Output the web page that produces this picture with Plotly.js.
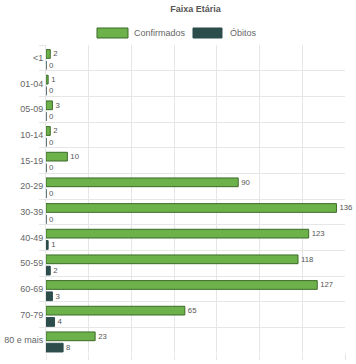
<!DOCTYPE html>
<html><head><meta charset="utf-8">
<script src="https://cdn.plot.ly/plotly-3.0.1.min.js"></script>
<style>html,body{margin:0;padding:0;background:#fff}#c{width:356px;height:364px}</style>
</head><body><div id="c"></div>
<script>
const faixas = ['<1','01-04','05-09','10-14','15-19','20-29','30-39','40-49','50-59','60-69','70-79','80 e mais'];
const confirmados = [2,1,3,2,10,90,136,123,118,127,65,23];
const obitos = [0,0,0,0,0,0,0,1,2,3,4,8];
const xTicks = [0,20,40,60,80,100,120,140];

const txtFont = {family:'Liberation Sans, Arial, sans-serif', size:8, color:'#555'};
const traces = [
  {type:'bar', orientation:'h', name:'Confirmados', y:faixas, x:confirmados,
   text:confirmados.map(String), textposition:'outside', textfont:txtFont, cliponaxis:false,
   marker:{color:'#6cb14a', line:{color:'#3d6b2b', width:1}}, width:0.34, offset:-0.32},
  {type:'bar', orientation:'h', name:'Óbitos', y:faixas, x:obitos,
   text:obitos.map(String), textposition:'outside', textfont:txtFont, cliponaxis:false,
   marker:{color:'#2d4d4d', line:{color:'#2d4d4d', width:1}}, width:0.34, offset:0.12}
];
const layout = {
  width:356, height:364,
  margin:{l:46, r:11, t:45, b:11},
  paper_bgcolor:'#fff', plot_bgcolor:'#fff',
  showlegend:false,
  font:{family:'Liberation Sans, Arial, sans-serif', size:9, color:'#666'},
  title:{text:'<b>Faixa Etária</b>', x:0.5, xref:'paper', xanchor:'center', y:0.985, yref:'container', yanchor:'top',
         font:{family:'Liberation Sans, Arial, sans-serif', size:9, color:'#555'}},
  xaxis:{range:[0,140], tickvals:xTicks, ticktext:xTicks.map(String), showgrid:true, gridcolor:'#e6e6e6', gridwidth:1,
         zeroline:false, showline:false, ticks:'outside', ticklen:6, tickcolor:'#e6e6e6', tickfont:{size:9, color:'#666'}, fixedrange:true},
  yaxis:{type:'category', autorange:'reversed', tickson:'boundaries', showgrid:true, gridcolor:'#e6e6e6', gridwidth:1,
         ticks:'outside', ticklen:6, tickcolor:'#e6e6e6', showline:true, linecolor:'#e6e6e6', tickfont:{size:9, color:'#666'}},
  shapes:[
    {type:'rect', xref:'paper', yref:'paper', x0:0.1706, x1:0.2742, y0:1.0227, y1:1.0552, fillcolor:'#6cb14a', line:{color:'#3d6b2b', width:1}},
    {type:'rect', xref:'paper', yref:'paper', x0:0.4916, x1:0.5886, y0:1.0227, y1:1.0552, fillcolor:'#2d4d4d', line:{color:'#2d4d4d', width:1}}
  ],
  annotations:[
    {xref:'paper', yref:'paper', x:0.2876, y:1.039, xanchor:'left', yanchor:'middle', text:'Confirmados', showarrow:false, font:{size:9, color:'#666'}},
    {xref:'paper', yref:'paper', x:0.6087, y:1.039, xanchor:'left', yanchor:'middle', text:'Óbitos', showarrow:false, font:{size:9, color:'#666'}}
  ]
};
Plotly.newPlot('c', traces, layout, {displayModeBar:false, staticPlot:true});
</script></body></html>
